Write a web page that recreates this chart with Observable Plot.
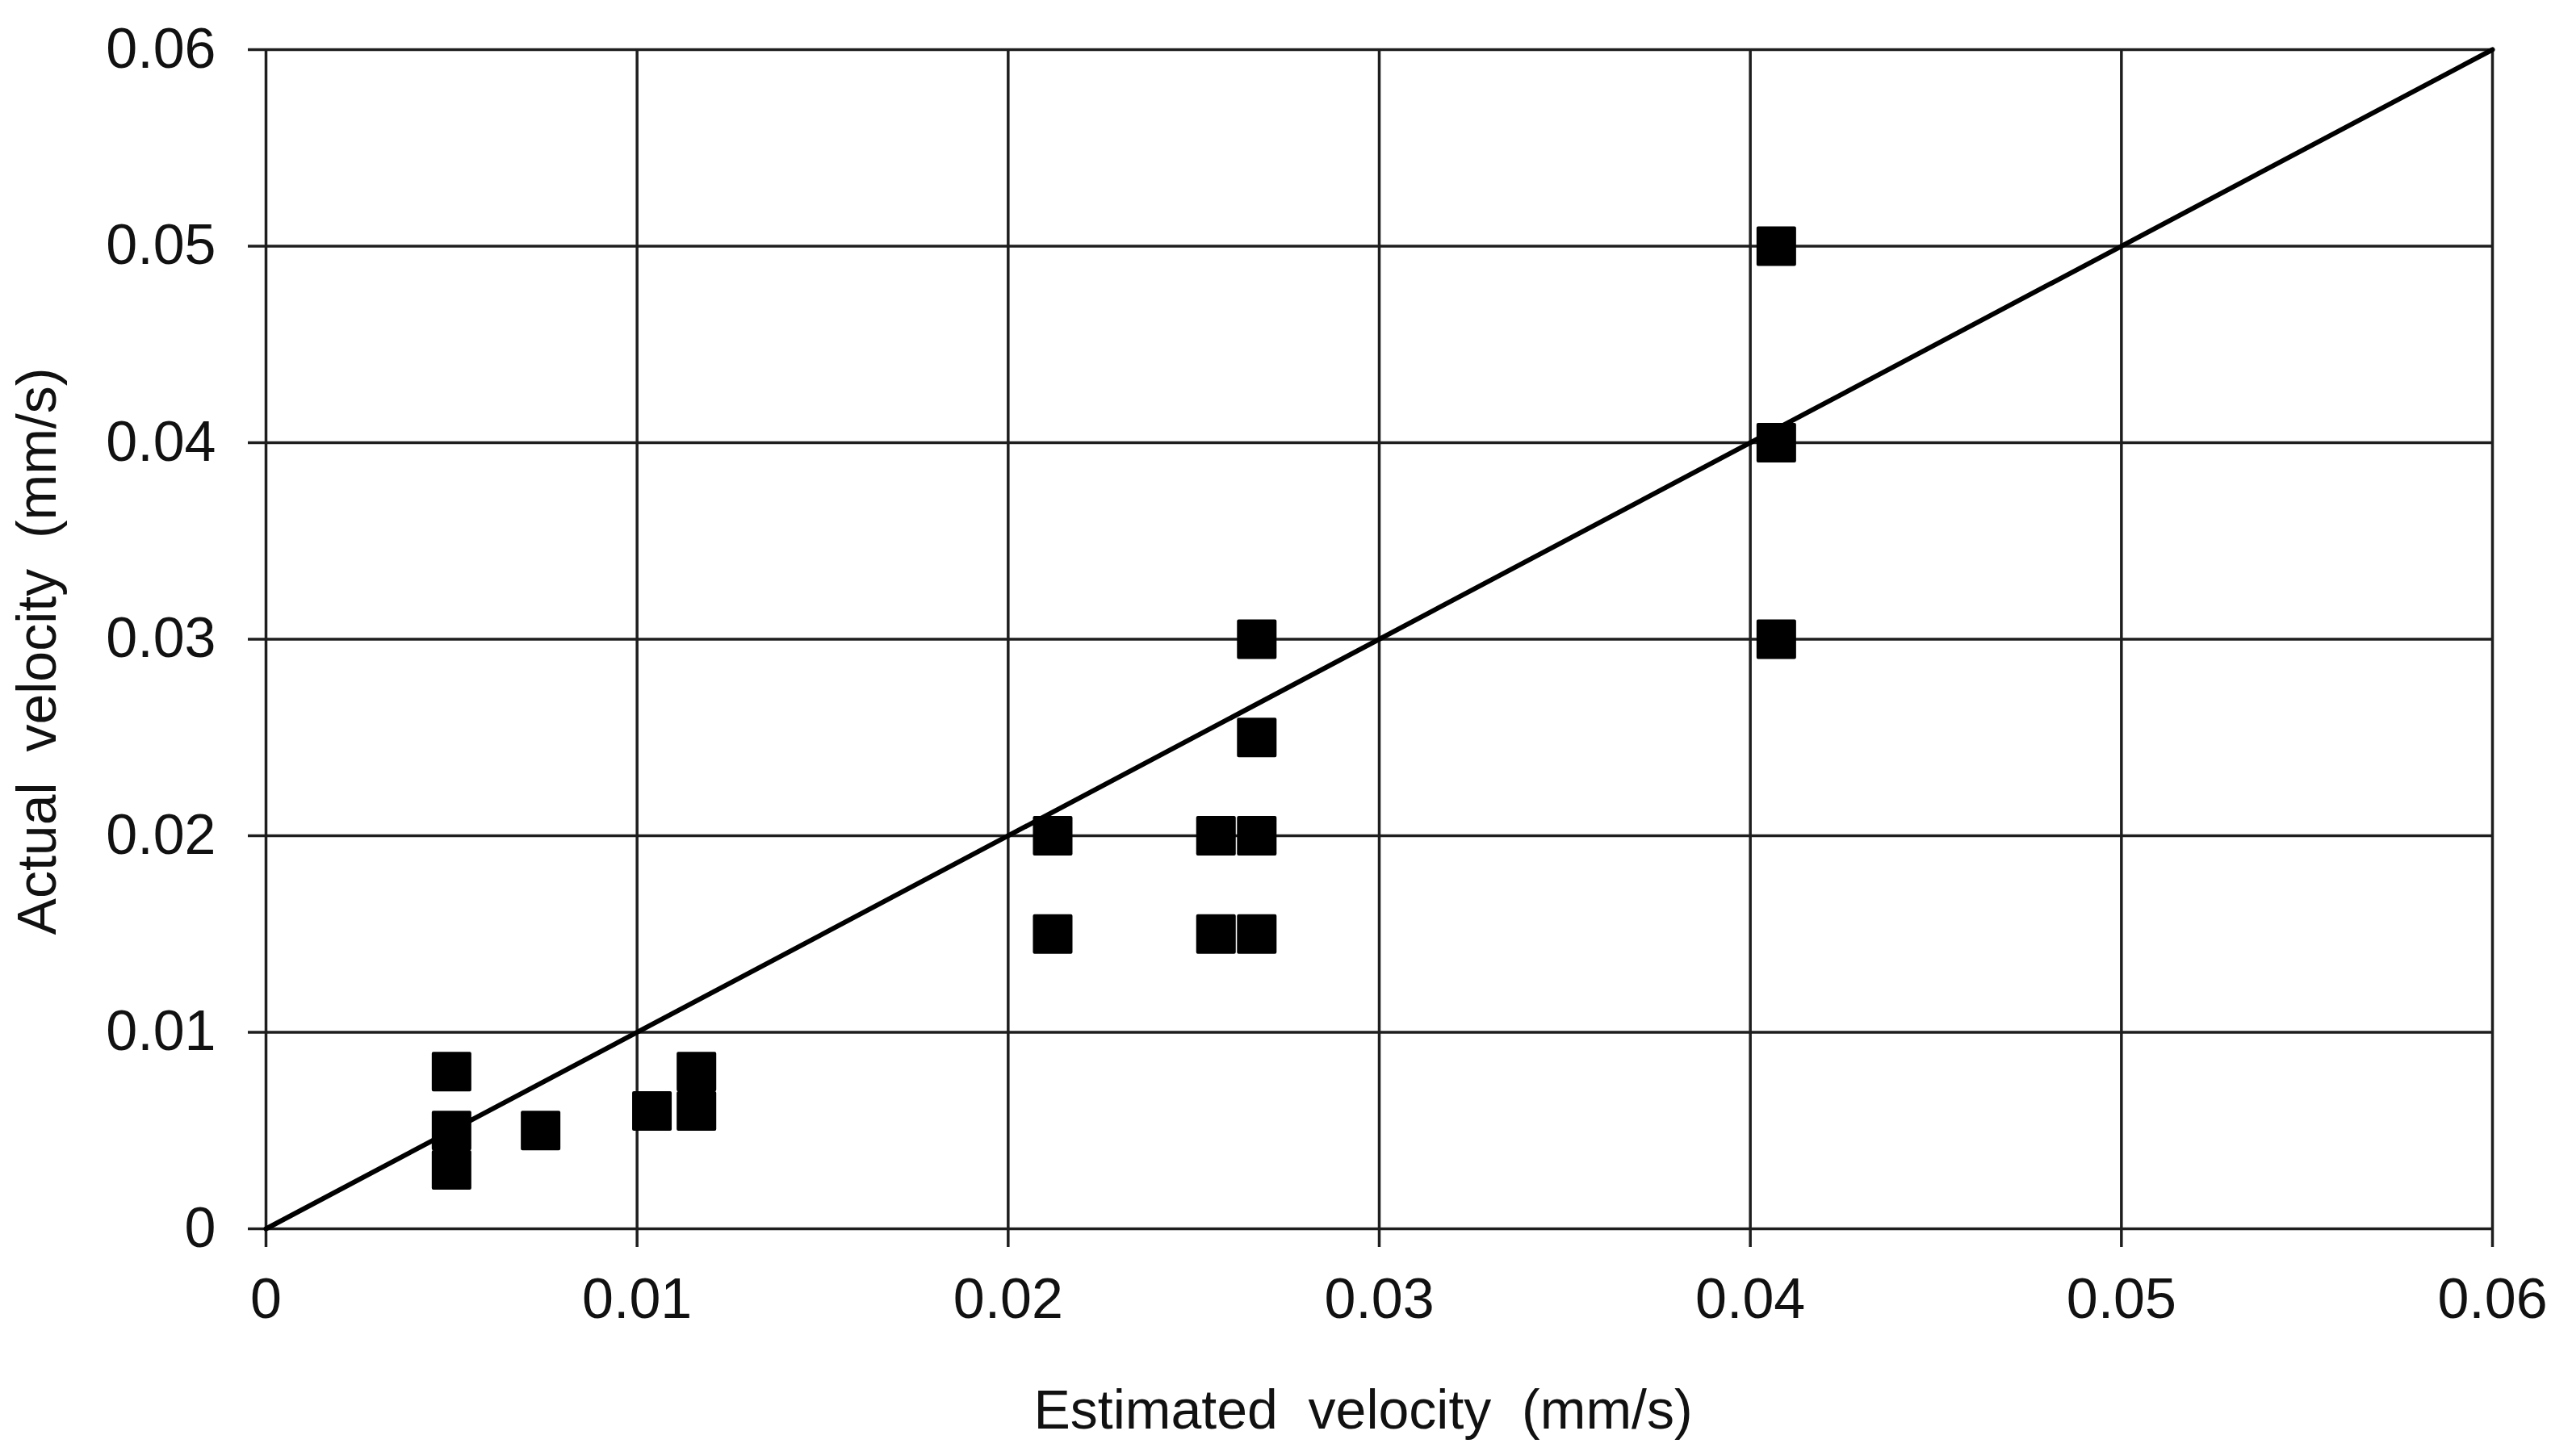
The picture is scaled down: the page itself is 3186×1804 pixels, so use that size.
<!DOCTYPE html>
<html>
<head>
<meta charset="utf-8">
<script src="https://cdn.jsdelivr.net/npm/d3@7"></script>
<script src="https://cdn.jsdelivr.net/npm/@observablehq/plot@0.6"></script>
<style>
  html, body { margin: 0; padding: 0; background: #fff; }
  #chart svg { display: block; }
</style>
</head>
<body>
<div id="chart"></div>
<script>
// Estimated velocity (mm/s) and actual velocity (mm/s)
const estimated = [0.0050, 0.0050, 0.0050, 0.0074, 0.0104, 0.0116, 0.0116,
                   0.0212, 0.0212, 0.0256, 0.0256, 0.0267, 0.0267, 0.0267, 0.0267,
                   0.0407, 0.0407, 0.0407];
const actual    = [0.008, 0.005, 0.003, 0.005, 0.006, 0.008, 0.006,
                   0.020, 0.015, 0.020, 0.015, 0.030, 0.025, 0.020, 0.015,
                   0.050, 0.040, 0.030];
// 1:1 reference line
const diagonal = [0, 0.06];
// Axis ticks
const tickValues = [0, 0.01, 0.02, 0.03, 0.04, 0.05, 0.06];
const tickLabels = ["0", "0.01", "0.02", "0.03", "0.04", "0.05", "0.06"];
const xTitle = "Estimated\u00a0\u00a0velocity\u00a0\u00a0(mm/s)";
const yTitle = "Actual\u00a0\u00a0velocity\u00a0\u00a0(mm/s)";

const points = estimated.map((e, i) => ({estimated: e, actual: actual[i]}));
const fmt = d => tickLabels[tickValues.findIndex(t => Math.abs(t - d) < 1e-9)] ?? String(d);

const gridColor = "#1e1e1e";

const chart = Plot.plot({
  width: 3186,
  height: 1804,
  marginLeft: 329,
  marginRight: 99,
  marginTop: 61,
  marginBottom: 282,
  style: {fontFamily: "'Liberation Sans', Arial, sans-serif", fontSize: "70px", color: "#111", background: "#fff"},
  x: {domain: [0, 0.06]},
  y: {domain: [0, 0.06]},
  marks: [
    Plot.gridX(tickValues, {stroke: gridColor, strokeOpacity: 1, strokeWidth: 3.5}),
    Plot.gridY(tickValues, {stroke: gridColor, strokeOpacity: 1, strokeWidth: 3.5}),
    Plot.axisX(tickValues, {tickSize: 23, tickPadding: 38, tickFormat: fmt, strokeWidth: 3.5, stroke: gridColor, label: null, fontSize: 70}),
    Plot.axisY(tickValues, {tickSize: 22, tickPadding: 40, tickFormat: fmt, strokeWidth: 3.5, stroke: gridColor, label: null, fontSize: 70}),
    Plot.line(diagonal, {x: d => d, y: d => d, stroke: "#000", strokeWidth: 6}),
    Plot.dot(points, {x: "estimated", y: "actual", symbol: "square", r: 25.4,
                      fill: "#000", stroke: "#000", strokeWidth: 4, strokeLinejoin: "round"}),
    Plot.text([xTitle], {text: d => d, frameAnchor: "bottom", dx: -20, dy: 226, lineAnchor: "middle",
                         textAnchor: "middle", fontSize: 68, fill: "#111"}),
    Plot.text([yTitle], {text: d => d, frameAnchor: "left", dx: -282, dy: 15, rotate: -90, lineAnchor: "middle",
                         textAnchor: "middle", fontSize: 68, fill: "#111"})
  ]
});
document.getElementById("chart").appendChild(chart);
</script>
</body>
</html>
